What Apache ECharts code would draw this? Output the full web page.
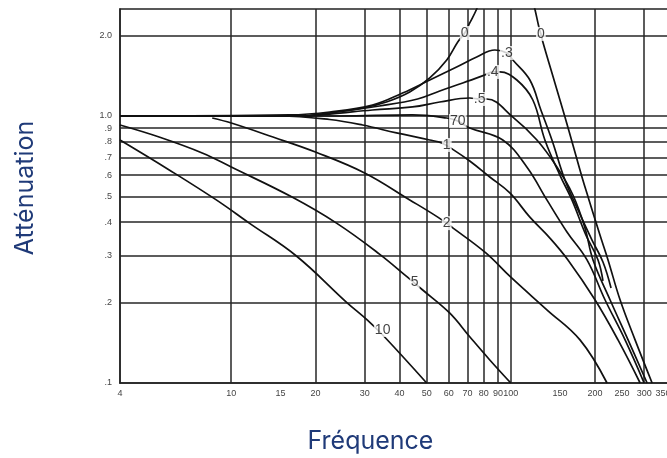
<!DOCTYPE html>
<html>
<head>
<meta charset="utf-8">
<script src="https://cdn.jsdelivr.net/npm/echarts@6/dist/echarts.min.js"></script>
<style>
html, body { margin: 0; padding: 0; background: #fff; }
#chart { width: 667px; height: 458px; }
</style>
</head>
<body>
<div id="chart"></div>
<script>
// tick labels and grid lines
var xTicks = [4, 10, 15, 20, 30, 40, 50, 60, 70, 80, 90, 100, 150, 200, 250, 300, 350];
var xGrid = [10, 20, 30, 40, 50, 60, 70, 80, 90, 100, 200, 300];
var yTicks = [0.1, 0.2, 0.3, 0.4, 0.5, 0.6, 0.7, 0.8, 0.9, 1.0, 2.0];
var yTickLabels = ['.1', '.2', '.3', '.4', '.5', '.6', '.7', '.8', '.9', '1.0', '2.0'];
var yGrid = [0.2, 0.3, 0.4, 0.5, 0.6, 0.7, 0.8, 0.9, 1.0, 2.0];

// curves, [frequence, attenuation]
var z0Left = [[4,1],[17.5,1],[22.5,1.026],[29.5,1.071],[35.9,1.128],[43.5,1.23],[51.3,1.388],[59,1.621],[64.6,1.893],[68.4,2.046],[71.3,2.23],[75.5,2.516],[77,2.7]];
var z0Right = [[119,2.75],[121.9,2.516],[126,2.154],[128.1,2.03],[130.2,1.893],[143.8,1.329],[156.2,0.991],[166.8,0.779],[179.7,0.591],[190.4,0.485],[208.4,0.358],[222.7,0.289],[245.9,0.205],[278.3,0.145],[320.2,0.1]];
var z03 = [[4,1],[16.1,1.009],[22.5,1.035],[32,1.099],[41,1.219],[51.3,1.364],[64,1.526],[75.5,1.663],[87.7,1.767],[96.8,1.722],[101.7,1.621],[117,1.364],[128.1,1.053],[140.3,0.813],[156.2,0.576],[173.9,0.445],[195.2,0.343],[213.6,0.284],[228.3,0.227]];
var z04 = [[4,1],[17.5,1],[22.5,1.026],[33.9,1.09],[46.4,1.158],[55.7,1.241],[67.3,1.329],[80.7,1.424],[86.2,1.462],[91.3,1.462],[105.1,1.364],[119.9,1.148],[132.4,0.813],[149.8,0.601],[165.4,0.485],[185.7,0.358],[205.1,0.289],[213.6,0.241]];
var z05 = [[4,1],[17.5,1],[22.5,1.017],[32,1.053],[44.5,1.081],[55.7,1.128],[71.3,1.168],[77.4,1.158],[82,1.158],[101.7,0.991],[124,0.813],[146.2,0.644],[166.8,0.506],[184.2,0.381],[196.8,0.289],[226.4,0.205],[262.7,0.145],[307.3,0.1]];
var z07 = [[4,1],[24.4,1],[44.5,1.009],[59,0.983],[64.6,0.958],[71.3,0.902],[93.6,0.813],[114.1,0.644],[134.6,0.485],[158.8,0.368],[187.3,0.289],[217.2,0.205],[256.3,0.145],[299.8,0.1]];
var z1 = [[4,1],[14.9,1],[22.5,0.97],[29.5,0.925],[39,0.864],[51.3,0.813],[56.6,0.792],[62,0.75],[71.3,0.678],[84.1,0.591],[99.2,0.515],[117,0.418],[138,0.349],[160.1,0.289],[200,0.205],[241.8,0.145],[290.1,0.1]];
var z2 = [[8.55,0.983],[10,0.941],[14.1,0.834],[20,0.733],[30,0.612],[43.5,0.485],[54.8,0.418],[62,0.381],[81.4,0.307],[100,0.249],[134.6,0.188],[176.8,0.145],[220.9,0.1]];
var z5 = [[4,0.925],[5.52,0.834],[7.87,0.727],[10,0.644],[16.5,0.497],[23.8,0.397],[33.9,0.304],[42.7,0.249],[48.4,0.223],[60.4,0.183],[71.3,0.149],[84.1,0.122],[100,0.1]];
var z10 = [[4,0.813],[6,0.628],[8.84,0.485],[11.6,0.397],[17.1,0.299],[25.8,0.201],[30.7,0.172],[35.3,0.149],[50,0.1]];

// curve labels [frequence, attenuation, text]
var curveLabels = [[68.4,2.046,'0'],[128.1,2.03,'0'],[96.8,1.722,'.3'],[86.2,1.462,'.4'],[77.4,1.158,'.5'],[64.6,0.958,'70'],[59,0.779,'1'],[59,0.397,'2'],[45.3,0.239,'5'],[34.8,0.158,'10']];

var curves = [z0Left, z0Right, z03, z04, z05, z07, z1, z2, z5, z10];

var chart = echarts.init(document.getElementById('chart'));

var gridLineStyle = { color: '#262626', width: 1.5, type: 'solid' };
var series = [];

series.push({
  type: 'line',
  data: [],
  z: 1,
  markLine: {
    silent: true,
    symbol: 'none',
    z: 1,
    label: { show: false },
    lineStyle: gridLineStyle,
    data: xGrid.map(function (v) { return { xAxis: v }; })
      .concat(yGrid.map(function (v) { return { yAxis: v }; }))
  }
});

curves.forEach(function (c) {
  series.push({
    type: 'line',
    data: c,
    z: 2,
    symbol: 'none',
    smooth: 0.4,
    lineStyle: { color: '#111', width: 1.7 },
    silent: true
  });
});

series.push({
  type: 'scatter',
  data: curveLabels,
  z: 10,
  symbolSize: 1,
  itemStyle: { color: 'rgba(0,0,0,0)' },
  silent: true,
  label: {
    show: true,
    position: 'inside',
    formatter: function (p) { return p.data[2]; },
    color: '#111',
    fontFamily: 'Liberation Sans',
    fontSize: 14,
    backgroundColor: '#fff',
    padding: [0, 1]
  }
});

chart.setOption({
  animation: false,
  backgroundColor: '#fff',
  grid: {
    left: 120, right: -2, top: 9, bottom: 75,
    outerBoundsMode: 'none',
    containLabel: false,
    show: true, borderColor: '#222', borderWidth: 1.5
  },
  xAxis: {
    type: 'log',
    logBase: 10,
    min: 4,
    max: 368,
    name: 'Fréquence',
    nameLocation: 'middle',
    nameGap: 46,
    nameTextStyle: { fontFamily: 'Inter', fontSize: 25, color: '#1f3a78', padding: [0, 48, 0, 0] },
    axisLine: { show: true, lineStyle: { color: '#222', width: 1.5 } },
    axisTick: { show: false },
    splitLine: { show: false },
    minorSplitLine: { show: false },
    axisLabel: {
      customValues: xTicks,
      fontFamily: 'Liberation Sans',
      fontSize: 9,
      color: '#444',
      margin: 6,
      formatter: function (v) { return String(Math.round(v)); }
    }
  },
  yAxis: {
    type: 'log',
    logBase: 10,
    min: 0.1,
    max: 2.516,
    name: 'Atténuation',
    nameLocation: 'middle',
    nameRotate: 90,
    nameGap: 82,
    nameTextStyle: { fontFamily: 'Inter', fontSize: 25, color: '#1f3a78', padding: [0, 0, 0, 16] },
    axisLine: { show: true, lineStyle: { color: '#222', width: 1.5 } },
    axisTick: { show: false },
    splitLine: { show: false },
    minorSplitLine: { show: false },
    axisLabel: {
      customValues: yTicks,
      fontFamily: 'Liberation Sans',
      fontSize: 9,
      color: '#444',
      margin: 8,
      formatter: function (v) {
        for (var i = 0; i < yTicks.length; i++) {
          if (Math.abs(yTicks[i] - v) < 1e-6) return yTickLabels[i];
        }
        return '';
      }
    }
  },
  series: series
});
</script>
</body>
</html>
